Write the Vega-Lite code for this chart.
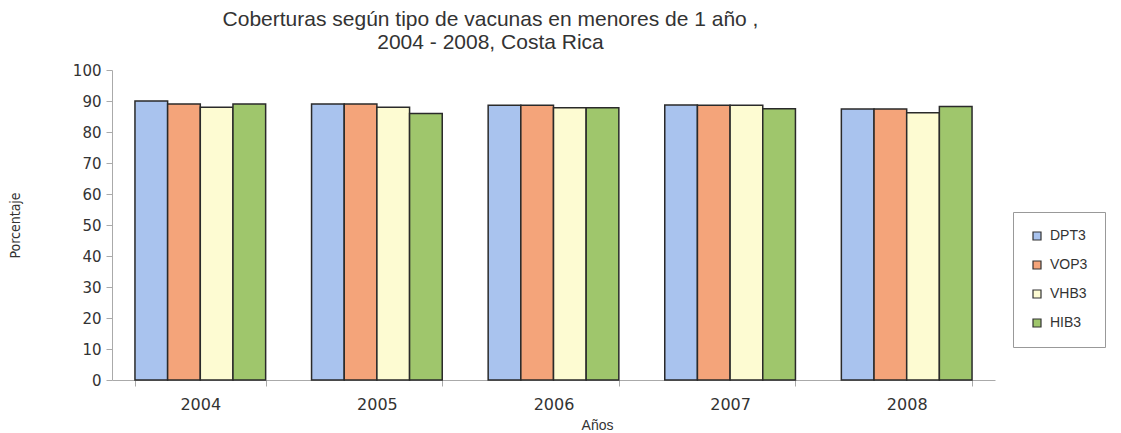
{
  "$schema": "https://vega.github.io/schema/vega-lite/v6.json",
  "autosize": {"type": "none"},
  "width": 883,
  "height": 310,
  "padding": {"left": 112, "top": 70, "right": 126, "bottom": 53},
  "background": "white",
  "config": {"view": {"stroke": null}},
  "title": {
    "text": ["Coberturas según tipo de vacunas en menores de 1 año ,", "2004 - 2008, Costa Rica"],
    "font": "Liberation Sans",
    "fontSize": 21,
    "fontWeight": "normal",
    "color": "#333333",
    "lineHeight": 23,
    "offset": 10,
    "anchor": "middle",
    "dx": -63
  },
  "data": {
    "values": [
      {"year": "2004", "vacuna": "DPT3", "pct": 90},
      {"year": "2004", "vacuna": "VOP3", "pct": 89},
      {"year": "2004", "vacuna": "VHB3", "pct": 88},
      {"year": "2004", "vacuna": "HIB3", "pct": 89},
      {"year": "2005", "vacuna": "DPT3", "pct": 89},
      {"year": "2005", "vacuna": "VOP3", "pct": 89},
      {"year": "2005", "vacuna": "VHB3", "pct": 88},
      {"year": "2005", "vacuna": "HIB3", "pct": 86},
      {"year": "2006", "vacuna": "DPT3", "pct": 88.6},
      {"year": "2006", "vacuna": "VOP3", "pct": 88.6},
      {"year": "2006", "vacuna": "VHB3", "pct": 87.8},
      {"year": "2006", "vacuna": "HIB3", "pct": 87.8},
      {"year": "2007", "vacuna": "DPT3", "pct": 88.7},
      {"year": "2007", "vacuna": "VOP3", "pct": 88.6},
      {"year": "2007", "vacuna": "VHB3", "pct": 88.6},
      {"year": "2007", "vacuna": "HIB3", "pct": 87.5},
      {"year": "2008", "vacuna": "DPT3", "pct": 87.4},
      {"year": "2008", "vacuna": "VOP3", "pct": 87.4},
      {"year": "2008", "vacuna": "VHB3", "pct": 86.2},
      {"year": "2008", "vacuna": "HIB3", "pct": 88.2}
    ]
  },
  "mark": {"type": "bar", "stroke": "#2a2a2a", "strokeWidth": 1.5, "opacity": 1},
  "encoding": {
    "x": {
      "field": "year",
      "type": "nominal",
      "scale": {"paddingInner": 0.26, "paddingOuter": 0.13},
      "axis": {
        "title": "Años",
        "titleFont": "Liberation Sans",
        "titleFontSize": 14,
        "titleFontWeight": "normal",
        "titleColor": "#333333",
        "titleX": 485,
        "titleY": 45,
        "titleBaseline": "middle",
        "labelAngle": 0,
        "labelFont": "DejaVu Sans",
        "labelFontSize": 16,
        "labelColor": "#333333",
        "labelPadding": 10,
        "tickBand": "extent",
        "tickSize": 6,
        "tickColor": "#aaaaaa",
        "domainColor": "#aaaaaa",
        "grid": false
      }
    },
    "xOffset": {"field": "vacuna", "type": "nominal", "sort": ["DPT3", "VOP3", "VHB3", "HIB3"]},
    "y": {
      "field": "pct",
      "type": "quantitative",
      "scale": {"domain": [0, 100], "nice": false},
      "axis": {
        "title": "Porcentaje",
        "titleFont": "DejaVu Sans Condensed, Liberation Sans",
        "titleFontSize": 14,
        "titleFontWeight": "normal",
        "titleColor": "#333333",
        "titleAngle": -90,
        "titleX": -97,
        "titleY": 155,
        "titleAlign": "center",
        "titleBaseline": "middle",
        "values": [0, 10, 20, 30, 40, 50, 60, 70, 80, 90, 100],
        "labelFont": "DejaVu Sans",
        "labelFontSize": 15,
        "labelColor": "#333333",
        "labelPadding": 5,
        "tickSize": 6,
        "tickColor": "#aaaaaa",
        "domainColor": "#aaaaaa",
        "grid": false
      }
    },
    "fill": {
      "field": "vacuna",
      "type": "nominal",
      "sort": ["DPT3", "VOP3", "VHB3", "HIB3"],
      "scale": {"domain": ["DPT3", "VOP3", "VHB3", "HIB3"], "range": ["#a9c3ee", "#f4a47a", "#fdfbd2", "#9fc66c"]},
      "legend": {
        "title": null,
        "orient": "none",
        "legendX": 901,
        "legendY": 142,
        "padding": 17,
        "strokeColor": "#999999",
        "symbolType": "square",
        "symbolSize": 64,
        "symbolStrokeColor": "#333333",
        "symbolStrokeWidth": 1.2,
        "labelFont": "Liberation Sans",
        "labelFontSize": 14,
        "labelColor": "#333333",
        "labelOffset": 6,
        "rowPadding": 15
      }
    }
  }
}
